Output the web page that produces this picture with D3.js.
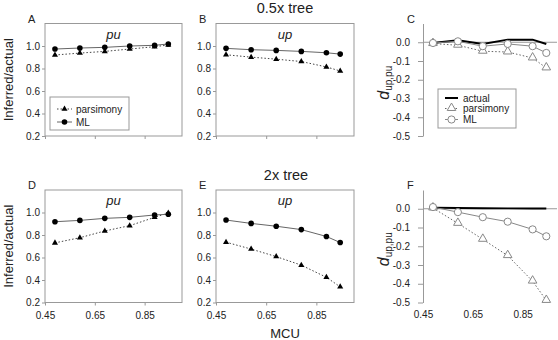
<!DOCTYPE html>
<html>
<head>
<meta charset="utf-8">
<script src="https://cdn.jsdelivr.net/npm/d3@7"></script>
<style>
  body { margin: 0; background: #fff; }
  svg { font-family: "Liberation Sans", Arial, sans-serif; }
</style>
</head>
<body>
<div id="wrapper"></div>
<script>
// data
const mcu = [0.49, 0.59, 0.69, 0.79, 0.89, 0.945]

const aParsimony = [0.92, 0.937, 0.952, 0.973, 0.994, 1.009]
const aML        = [0.973, 0.982, 0.988, 1.0, 1.006, 1.018]
const bParsimony = [0.922, 0.901, 0.883, 0.862, 0.814, 0.778]
const bML        = [0.979, 0.967, 0.961, 0.952, 0.94, 0.928]
const cActual    = [-0.004, 0.011, -0.009, 0.014, 0.014, -0.009]
const cParsimony = [-0.007, -0.016, -0.048, -0.052, -0.084, -0.137]
const cML        = [-0.004, 0.005, -0.021, -0.009, -0.021, -0.057]

const dParsimony = [0.73, 0.776, 0.836, 0.883, 0.957, 0.996]
const dML        = [0.918, 0.93, 0.948, 0.957, 0.978, 0.984]
const eParsimony = [0.736, 0.675, 0.608, 0.532, 0.424, 0.339]
const eML        = [0.933, 0.903, 0.878, 0.848, 0.787, 0.733]
const fActual    = [0.006, 0.004, 0.003, 0.002, 0.002, 0.001]
const fParsimony = [0.004, -0.078, -0.163, -0.25, -0.386, -0.489]
const fML        = [0.009, -0.018, -0.045, -0.069, -0.11, -0.147]

const ratioTicks = [0.2, 0.4, 0.6, 0.8, 1.0]
const diffTicks = [0, -0.1, -0.2, -0.3, -0.4, -0.5]
const mcuTicks = [0.45, 0.65, 0.85]

const width = 558
const height = 340

const svg = d3.select("#wrapper")
  .append("svg")
    .attr("width", width)
    .attr("height", height)

// layout
const cols = [[45, 182], [216, 354], [423, 560]]
const rows = [[136, 23.5], [302.5, 190]]
const grey = "#999"
const ink = "#222"

const panels = [
  { letter: "A", col: 0, row: 0, kind: "ratio", tag: "pu", pars: aParsimony, ml: aML },
  { letter: "B", col: 1, row: 0, kind: "ratio", tag: "up", pars: bParsimony, ml: bML },
  { letter: "C", col: 2, row: 0, kind: "diff", actual: cActual, pars: cParsimony, ml: cML },
  { letter: "D", col: 0, row: 1, kind: "ratio", tag: "pu", pars: dParsimony, ml: dML },
  { letter: "E", col: 1, row: 1, kind: "ratio", tag: "up", pars: eParsimony, ml: eML },
  { letter: "F", col: 2, row: 1, kind: "diff", actual: fActual, pars: fParsimony, ml: fML },
]

const triangle = size => d3.symbol().type(d3.symbolTriangle).size(size)

panels.forEach(p => {
  const xScale = d3.scaleLinear().domain([0.45, 1.0]).range(cols[p.col])
  const yScale = p.kind == "ratio"
    ? d3.scaleLinear().domain([0.2, 1.2]).range(rows[p.row])
    : d3.scaleLinear().domain([-0.5, 0.1]).range(rows[p.row])
  const g = svg.append("g")
  const [x0, x1] = cols[p.col]
  const [yb, yt] = rows[p.row]
  const pts = arr => arr.map((v, i) => [mcu[i], v])
  const line = d3.line().x(d => xScale(d[0])).y(d => yScale(d[1]))

  if (p.kind == "ratio") {
    g.append("rect")
        .attr("x", x0).attr("y", yt)
        .attr("width", x1 - x0).attr("height", yb - yt)
        .attr("fill", "none").attr("stroke", grey)

    const yAxis = g.append("g")
        .attr("transform", `translate(${x0},0)`)
        .call(d3.axisLeft(yScale).tickValues(ratioTicks).tickSize(3).tickPadding(2)
          .tickFormat(d => d.toFixed(1)))
    yAxis.select(".domain").remove()

    const xAxis = g.append("g")
        .attr("transform", `translate(0,${yb})`)
        .call(d3.axisBottom(xScale).tickValues(mcuTicks).tickSize(3).tickPadding(6)
          .tickFormat(d => p.row == 1 ? d.toFixed(2) : ""))
    xAxis.select(".domain").remove()

    g.append("text")
        .attr("x", (x0 + x1) / 2)
        .attr("y", yt + 15)
        .attr("text-anchor", "middle")
        .attr("font-style", "italic")
        .attr("font-size", 13)
        .attr("fill", ink)
        .text(p.tag)

    // parsimony
    g.append("path")
        .attr("d", line(pts(p.pars)))
        .attr("fill", "none").attr("stroke", "#444")
        .attr("stroke-dasharray", "1.5,2")
    g.selectAll(".tri").data(pts(p.pars)).enter().append("path")
        .attr("transform", d => `translate(${xScale(d[0])},${yScale(d[1])})`)
        .attr("d", triangle(16))
        .attr("fill", "#000")

    // ML
    g.append("path")
        .attr("d", line(pts(p.ml)))
        .attr("fill", "none").attr("stroke", "#666")
    g.selectAll(".dot").data(pts(p.ml)).enter().append("circle")
        .attr("cx", d => xScale(d[0]))
        .attr("cy", d => yScale(d[1]))
        .attr("r", 2.8)
        .attr("fill", "#000")
  } else {
    const yAxis = g.append("g")
        .attr("transform", `translate(${x0},0)`)
        .call(d3.axisLeft(yScale).tickValues(diffTicks).tickSize(5).tickSizeOuter(0).tickPadding(8)
          .tickFormat(d => d.toFixed(1)))
    yAxis.select(".domain").attr("stroke", grey)

    g.append("line")
        .attr("x1", x0).attr("x2", 557)
        .attr("y1", yScale(0)).attr("y2", yScale(0))
        .attr("stroke", grey)

    if (p.row == 1) {
      const xAxis = g.append("g")
          .attr("transform", `translate(0,${yb})`)
          .call(d3.axisBottom(xScale).tickValues(mcuTicks).tickSize(0).tickPadding(8)
            .tickFormat(d => d.toFixed(2)))
      xAxis.select(".domain").remove()
    }

    // actual
    g.append("path")
        .attr("d", line(pts(p.actual)))
        .attr("fill", "none").attr("stroke", "#000").attr("stroke-width", 2)

    // parsimony
    g.append("path")
        .attr("d", line(pts(p.pars)))
        .attr("fill", "none").attr("stroke", "#666")
        .attr("stroke-dasharray", "1.5,2")
    g.selectAll(".tri").data(pts(p.pars)).enter().append("path")
        .attr("transform", d => `translate(${xScale(d[0])},${yScale(d[1]) - 0.5})`)
        .attr("d", triangle(32))
        .attr("fill", "#fff").attr("stroke", "#888")

    // ML
    g.append("path")
        .attr("d", line(pts(p.ml)))
        .attr("fill", "none").attr("stroke", "#888")
    g.selectAll(".dot").data(pts(p.ml)).enter().append("circle")
        .attr("cx", d => xScale(d[0]))
        .attr("cy", d => yScale(d[1]))
        .attr("r", 3.6)
        .attr("fill", "#fff").attr("stroke", "#888")
  }

  g.selectAll(".tick text").attr("font-size", 10).attr("fill", ink)
    .attr("font-family", "Liberation Sans, Arial, sans-serif")
  g.selectAll(".tick line").attr("stroke", grey)

  // panel letter
  g.append("text")
      .attr("x", p.col == 2 ? 407 : x0 - 17)
      .attr("y", yt - 1)
      .attr("font-size", 11)
      .attr("fill", ink)
      .text(p.letter)
})

// y axis titles
rows.forEach(([yb, yt]) => {
  svg.append("text")
      .attr("transform", `translate(13,${(yb + yt) / 2}) rotate(-90)`)
      .attr("text-anchor", "middle")
      .attr("font-size", 13)
      .attr("fill", ink)
      .text("Inferred/actual")

  const dl = svg.append("text")
      .attr("transform", `translate(389,${(yb + yt) / 2 + 3}) rotate(-90)`)
      .attr("text-anchor", "middle")
      .attr("fill", ink)
  dl.append("tspan").attr("font-style", "italic").attr("font-size", 16).text("d")
  dl.append("tspan").attr("font-size", 10).attr("dy", 3).text("up,pu")
})

// legends
const legA = svg.append("g")
legA.append("rect").attr("x", 50).attr("y", 97).attr("width", 79).attr("height", 33)
    .attr("fill", "#fff").attr("stroke", grey)
const legAItems = [
  { label: "parsimony", y: 109, dash: "1.5,2", mark: "tri" },
  { label: "ML", y: 122, dash: null, mark: "dot" },
]
legAItems.forEach(d => {
  legA.append("line").attr("x1", 57).attr("x2", 72).attr("y1", d.y).attr("y2", d.y)
      .attr("stroke", d.mark == "tri" ? "#444" : "#666").attr("stroke-dasharray", d.dash)
  if (d.mark == "tri") {
    legA.append("path").attr("transform", `translate(64.5,${d.y})`).attr("d", triangle(16)).attr("fill", "#000")
  } else {
    legA.append("circle").attr("cx", 64.5).attr("cy", d.y).attr("r", 2.8).attr("fill", "#000")
  }
  legA.append("text").attr("x", 76).attr("y", d.y).attr("dy", "0.35em")
      .attr("font-size", 10).attr("fill", ink).text(d.label)
})

const legC = svg.append("g")
legC.append("rect").attr("x", 438).attr("y", 89).attr("width", 78).attr("height", 39)
    .attr("fill", "#fff").attr("stroke", grey)
const legCItems = [
  { label: "actual", y: 98, mark: null },
  { label: "parsimony", y: 108.5, mark: "tri" },
  { label: "ML", y: 119.5, mark: "dot" },
]
legCItems.forEach(d => {
  const l = legC.append("line").attr("x1", 445).attr("x2", 458).attr("y1", d.y).attr("y2", d.y)
  if (d.mark == null) {
    l.attr("stroke", "#000").attr("stroke-width", 2)
  } else if (d.mark == "tri") {
    l.attr("stroke", "#666").attr("stroke-dasharray", "1.5,2")
    legC.append("path").attr("transform", `translate(451.5,${d.y - 0.5})`).attr("d", triangle(32))
        .attr("fill", "#fff").attr("stroke", "#888")
  } else {
    l.attr("stroke", "#888")
    legC.append("circle").attr("cx", 451.5).attr("cy", d.y).attr("r", 3.6)
        .attr("fill", "#fff").attr("stroke", "#888")
  }
  legC.append("text").attr("x", 463).attr("y", d.y).attr("dy", "0.35em")
      .attr("font-size", 10).attr("fill", ink).text(d.label)
})

// titles
svg.append("text").attr("x", 285).attr("y", 12.5).attr("text-anchor", "middle")
    .attr("font-size", 14.5).attr("fill", ink).text("0.5x tree")
svg.append("text").attr("x", 286).attr("y", 180).attr("text-anchor", "middle")
    .attr("font-size", 14.5).attr("fill", ink).text("2x tree")
svg.append("text").attr("x", 285).attr("y", 337.5).attr("text-anchor", "middle")
    .attr("font-size", 13).attr("fill", ink).text("MCU")
</script>
</body>
</html>
